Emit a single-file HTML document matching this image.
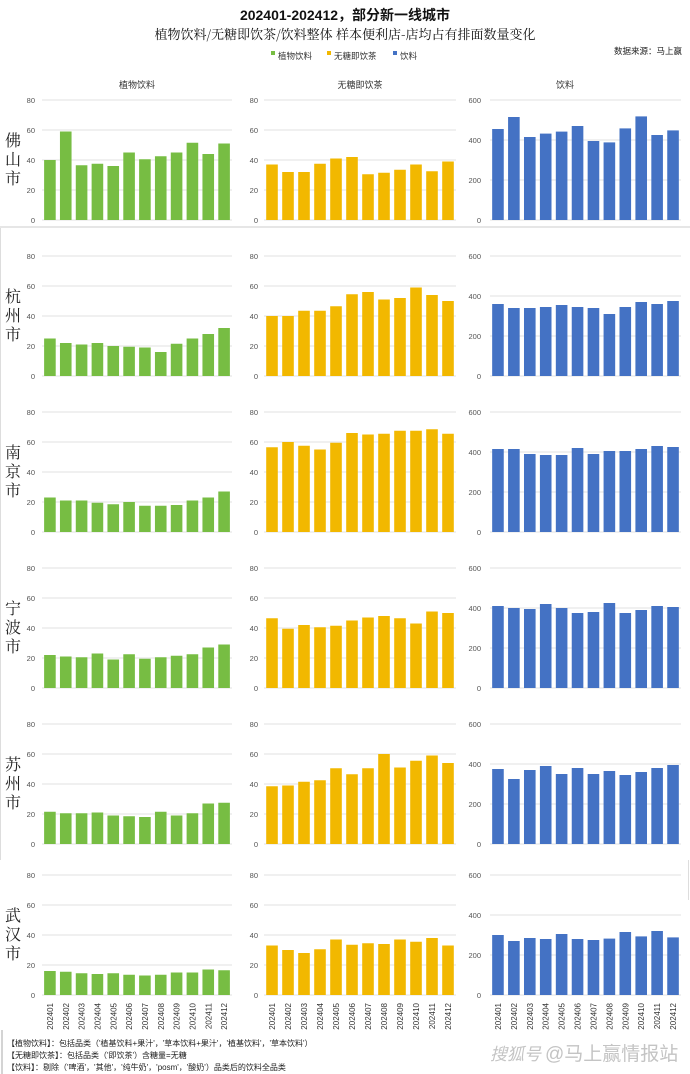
<!DOCTYPE html>
<html><head><meta charset="utf-8"><style>
body{margin:0;background:#fff;}
svg{display:block;font-family:"Liberation Sans","Noto Sans CJK SC",sans-serif;}
</style></head><body>
<svg id="s" width="690" height="1074" xmlns="http://www.w3.org/2000/svg">
<rect width="690" height="1074" fill="#fff"/>
<text x="345" y="20" text-anchor="middle" font-size="14" font-weight="bold" fill="#111">202401-202412，部分新一线城市</text>
<text x="345" y="39" text-anchor="middle" font-size="13" fill="#111" font-family="'Noto Serif CJK SC','Liberation Serif',serif">植物饮料/无糖即饮茶/饮料整体 样本便利店-店均占有排面数量变化</text>
<text x="682" y="54" text-anchor="end" font-size="8.5" fill="#222">数据来源：马上赢</text>
<rect x="271" y="51" width="4" height="4" fill="#77BD43"/><text x="278" y="59" font-size="8.5" fill="#333">植物饮料</text>
<rect x="327" y="51" width="4" height="4" fill="#F2B800"/><text x="334" y="59" font-size="8.5" fill="#333">无糖即饮茶</text>
<rect x="393" y="51" width="4" height="4" fill="#4472C4"/><text x="400" y="59" font-size="8.5" fill="#333">饮料</text>
<text x="137" y="88" text-anchor="middle" font-size="9" fill="#333">植物饮料</text>
<text x="360" y="88" text-anchor="middle" font-size="9" fill="#333">无糖即饮茶</text>
<text x="565" y="88" text-anchor="middle" font-size="9" fill="#333">饮料</text>
<line x1="0" y1="227" x2="690" y2="227" stroke="#ccc"/>
<line x1="0.5" y1="228" x2="0.5" y2="860" stroke="#ddd"/>
<line x1="688.5" y1="860" x2="688.5" y2="900" stroke="#ddd"/>
<g id="g"></g>
<line x1="2" y1="1030" x2="2" y2="1074" stroke="#aaa"/>
<text x="7" y="1046" font-size="8" fill="#222">【植物饮料】：包括品类（'植基饮料+果汁'，'草本饮料+果汁'，'植基饮料'，'草本饮料'）</text>
<text x="7" y="1058" font-size="8" fill="#222">【无糖即饮茶】：包括品类（'即饮茶'）含糖量=无糖</text>
<text x="7" y="1070" font-size="8" fill="#222">【饮料】：剔除（'啤酒'，'其他'，'纯牛奶'，'posm'，'酸奶'）品类后的饮料全品类</text>
<text x="490" y="1060" font-size="17" fill="#c4c4c4" font-style="italic">搜狐号</text>
<text x="545" y="1060" font-size="19" fill="#c4c4c4">@马上赢情报站</text>
</svg>
<script>
var D=[
["佛山市",[40,59,36.5,37.5,36,45,40.5,42.5,45,51.5,44,51],[37,32,32,37.5,41,42,30.5,31.5,33.5,37,32.5,39],[455,515,415,432,442,470,395,388,458,518,425,448]],
["杭州市",[25,22,21,22,20,19.5,19,16,21.5,25,28,32],[40,40,43.5,43.5,46.5,54.5,56,51,52,59,54,50],[360,340,340,345,355,345,340,310,345,370,360,375]],
["南京市",[23,21,21,19.5,18.5,20,17.5,17.5,18,21,23,27],[56.5,60,57.5,55,59.5,66,65,65.5,67.5,67.5,68.5,65.5],[415,415,390,385,385,420,390,405,405,415,430,425]],
["宁波市",[22,21,20.5,23,19,22.5,19.5,20.5,21.5,22.5,27,29],[46.5,39.5,42,40.5,41.5,45,47,48,46.5,43,51,50],[410,400,395,420,400,375,380,425,375,390,410,405]],
["苏州市",[21.5,20.5,20.5,21,19,18.5,18,21.5,19,20.5,27,27.5],[38.5,39,41.5,42.5,50.5,46.5,50.5,60,51,55.5,59,54],[375,325,370,390,350,380,350,365,345,360,380,395]],
["武汉市",[16,15.5,14.5,14,14.5,13.5,13,13.5,15,15,17,16.5],[33,30,28,30.5,37,33.5,34.5,34,37,35.5,38,33],[300,270,285,280,305,280,275,282,315,293,320,288]]];
var tops=[100,256,412,568,724,875];
var P=[[42,232,35,"#77BD43",80,[0,20,40,60,80]],[264,456,258,"#F2B800",80,[0,20,40,60,80]],[490,681,481,"#4472C4",600,[0,200,400,600]]];
var h="";
D.forEach(function(r,i){
 var t=tops[i],b=t+120,m=(t+b)/2;
 for(var k=0;k<3;k++){var c=r[0][k];h+='<text x="13" y="'+(m-14+k*19)+'" text-anchor="middle" font-size="16" fill="#222" font-family="\'Noto Serif CJK SC\',serif">'+c+'</text>';}
 P.forEach(function(p,j){
  var vals=r[j+1];
  p[5].forEach(function(v){var y=b-v/p[4]*120;h+='<line x1="'+p[0]+'" y1="'+y+'" x2="'+p[1]+'" y2="'+y+'" stroke="#e2e2e2" stroke-width="1"/>';h+='<text x="'+p[2]+'" y="'+(y+3)+'" text-anchor="end" font-size="7.5" fill="#555">'+v+'</text>';});
  var st=(p[1]-p[0])/12;
  vals.forEach(function(v,n){var cx=p[0]+st*(n+0.5),hh=v/p[4]*120;h+='<rect x="'+(cx-5.8)+'" y="'+(b-hh)+'" width="11.6" height="'+hh+'" fill="'+p[3]+'"/>';
   if(i==5){var lab=202401+n;h+='<text transform="translate('+(cx+3)+','+(b+8)+') rotate(-90)" text-anchor="end" font-size="8" fill="#333">'+lab+'</text>';}
  });
 });
});
document.getElementById("g").innerHTML=h;
</script>
</body></html>
